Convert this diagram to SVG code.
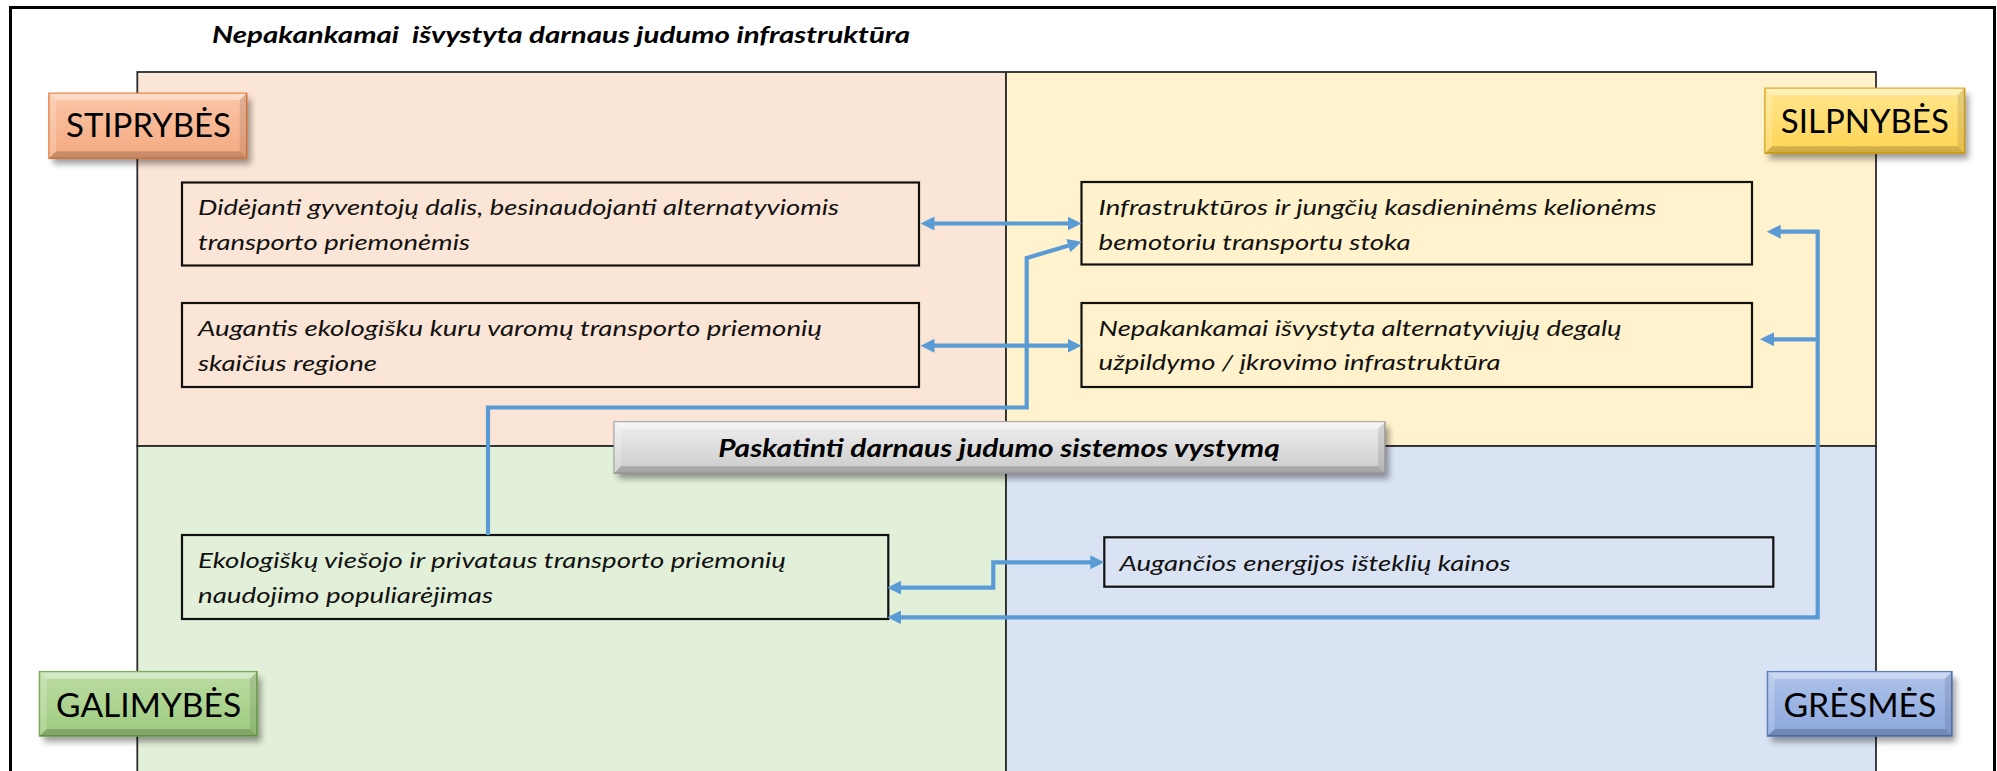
<svg xmlns="http://www.w3.org/2000/svg" width="1997" height="771" viewBox="0 0 1997 771">
<style>
.q{stroke:#2b2b2b;stroke-width:1.8}
.box{fill:none;stroke:#111;stroke-width:2.2}
.t{font-family:Lato,"Open Sans","DejaVu Sans",sans-serif;font-style:italic;font-size:21.5px;fill:#111}
.tb{font-family:Lato,"Open Sans","DejaVu Sans",sans-serif;font-style:italic;font-weight:bold;fill:#000}
.lb{font-family:Lato,"Open Sans","DejaVu Sans",sans-serif;font-size:33px;fill:#000}
.c{fill:none;stroke:#5B9BD5;stroke-width:4.2;stroke-linejoin:miter}
.hl{fill:#fff;opacity:.38}
.hl2{fill:#fff;opacity:.2}
.dk{fill:#000;opacity:.18}
.dk2{fill:#000;opacity:.1}
.sh{fill:#000;opacity:.38;filter:url(#blur)}
</style>
<defs>
<filter id="blur" x="-20%" y="-50%" width="140%" height="200%"><feGaussianBlur stdDeviation="3"/></filter>
<marker id="ah" markerUnits="userSpaceOnUse" markerWidth="16" markerHeight="16" refX="4" refY="7" orient="auto-start-reverse" viewBox="0 0 16 16">
<path d="M0,0 L14,7 L0,14 Z" fill="#5B9BD5"/>
</marker>
<linearGradient id="gO" x1="0" y1="0" x2="0" y2="1"><stop offset="0" stop-color="#FAC6A8"/><stop offset="1" stop-color="#F4A97F"/></linearGradient>
<linearGradient id="gY" x1="0" y1="0" x2="0" y2="1"><stop offset="0" stop-color="#FFE690"/><stop offset="1" stop-color="#FFD452"/></linearGradient>
<linearGradient id="gG" x1="0" y1="0" x2="0" y2="1"><stop offset="0" stop-color="#BCDCA3"/><stop offset="1" stop-color="#9DCB7E"/></linearGradient>
<linearGradient id="gB" x1="0" y1="0" x2="0" y2="1"><stop offset="0" stop-color="#AEC3EA"/><stop offset="1" stop-color="#8BA7DC"/></linearGradient>
<linearGradient id="gS" x1="0" y1="0" x2="0" y2="1"><stop offset="0" stop-color="#F0F0F0"/><stop offset="1" stop-color="#CACACA"/></linearGradient>
</defs>

<rect x="10.5" y="7.5" width="1984" height="820" fill="#fff" stroke="#000" stroke-width="3"/>

<g id="quadrants">
<rect class="q" x="137.3" y="72" width="868.7" height="374" fill="#FBE5D6"/>
<rect class="q" x="1006" y="72" width="870" height="374" fill="#FFF2CC"/>
<rect class="q" x="137.3" y="446" width="868.7" height="380" fill="#E2F0D9"/>
<rect class="q" x="1006" y="446" width="870" height="380" fill="#DAE3F3"/>
</g>

<g id="title">
<text class="tb" x="212" y="43" font-size="22" textLength="698" lengthAdjust="spacingAndGlyphs" xml:space="preserve">Nepakankamai  išvystyta darnaus judumo infrastruktūra</text>
</g>

<g id="node-s1">
<rect class="box" x="182" y="182.5" width="737" height="83"/>
<text class="t" x="198" y="215.3" textLength="641" lengthAdjust="spacingAndGlyphs">Didėjanti gyventojų dalis, besinaudojanti alternatyviomis</text>
<text class="t" x="198" y="250" textLength="272" lengthAdjust="spacingAndGlyphs">transporto priemonėmis</text>
</g>
<g id="node-s2">
<rect class="box" x="182" y="303" width="737" height="84"/>
<text class="t" x="198" y="335.8" textLength="624" lengthAdjust="spacingAndGlyphs">Augantis ekologišku kuru varomų transporto priemonių</text>
<text class="t" x="198" y="370.5" textLength="179" lengthAdjust="spacingAndGlyphs">skaičius regione</text>
</g>
<g id="node-w1">
<rect class="box" x="1081.5" y="182" width="670.5" height="82.5"/>
<text class="t" x="1098.6" y="215" textLength="558" lengthAdjust="spacingAndGlyphs">Infrastruktūros ir jungčių kasdieninėms kelionėms</text>
<text class="t" x="1098.6" y="249.6" textLength="312" lengthAdjust="spacingAndGlyphs">bemotoriu transportu stoka</text>
</g>
<g id="node-w2">
<rect class="box" x="1081.5" y="303" width="670.5" height="84"/>
<text class="t" x="1098.6" y="335.8" textLength="523" lengthAdjust="spacingAndGlyphs">Nepakankamai išvystyta alternatyviųjų degalų</text>
<text class="t" x="1098.6" y="370.3" textLength="402" lengthAdjust="spacingAndGlyphs">užpildymo / įkrovimo infrastruktūra</text>
</g>
<g id="node-o1">
<rect class="box" x="182" y="535" width="706.3" height="84"/>
<text class="t" x="198" y="568" textLength="588" lengthAdjust="spacingAndGlyphs">Ekologiškų viešojo ir privataus transporto priemonių</text>
<text class="t" x="198" y="602.6" textLength="295" lengthAdjust="spacingAndGlyphs">naudojimo populiarėjimas</text>
</g>
<g id="node-t1">
<rect class="box" x="1104.3" y="537.3" width="669" height="49.4"/>
<text class="t" x="1119.5" y="570.5" textLength="391" lengthAdjust="spacingAndGlyphs">Augančios energijos išteklių kainos</text>
</g>

<g id="connectors">
<path class="c" d="M930.5,223.5 L1071.5,223.5" marker-start="url(#ah)" marker-end="url(#ah)"/>
<path class="c" d="M930.5,345.7 L1071.5,345.7" marker-start="url(#ah)" marker-end="url(#ah)"/>
<path class="c" d="M488,535 L488,407.5 L1026.7,407.5 L1026.7,258 L1072.1,244.5" marker-end="url(#ah)"/>
<path class="c" d="M1776.7,231.7 L1817.7,231.7 L1817.7,617.3 L897.3,617.3" marker-start="url(#ah)" marker-end="url(#ah)"/>
<path class="c" d="M1817.7,339.3 L1770,339.3" marker-end="url(#ah)"/>
<path class="c" d="M897.3,587.7 L993.3,587.7 L993.3,562.3 L1094.3,562.3" marker-start="url(#ah)" marker-end="url(#ah)"/>
</g>

<g id="goal">
<rect class="sh" x="618" y="427" width="771" height="51.6"/>
<rect x="614" y="421.7" width="771" height="51.6" fill="url(#gS)" stroke="#9C9C9C" stroke-width="1.2"/>
<path class="hl" d="M614,421.7 L1385,421.7 L1378,428.7 L621,428.7 Z"/>
<path class="hl2" d="M614,421.7 L621,428.7 L621,466.3 L614,473.3 Z"/>
<path class="dk" d="M614,473.3 L621,466.3 L1378,466.3 L1385,473.3 Z"/>
<path class="dk2" d="M1385,421.7 L1378,428.7 L1378,466.3 L1385,473.3 Z"/>
<text class="tb" x="718.3" y="456.7" font-size="24" textLength="561.5" lengthAdjust="spacingAndGlyphs">Paskatinti darnaus judumo sistemos vystymą</text>
</g>

<g id="label-stiprybes">
<rect class="sh" x="53" y="99" width="197.7" height="65"/>
<rect x="49" y="93.3" width="197.7" height="65" fill="url(#gO)" stroke="#E27A3C" stroke-width="1.5"/>
<path class="hl" d="M49,93.3 L246.7,93.3 L239.7,100.3 L56,100.3 Z"/>
<path class="hl2" d="M49,93.3 L56,100.3 L56,151.3 L49,158.3 Z"/>
<path class="dk" d="M49,158.3 L56,151.3 L239.7,151.3 L246.7,158.3 Z"/>
<path class="dk2" d="M246.7,93.3 L239.7,100.3 L239.7,151.3 L246.7,158.3 Z"/>
<text class="lb" x="66" y="137.3" textLength="165" lengthAdjust="spacingAndGlyphs">STIPRYBĖS</text>
</g>
<g id="label-silpnybes">
<rect class="sh" x="1769" y="94" width="199.6" height="65"/>
<rect x="1765" y="88.3" width="199.6" height="65" fill="url(#gY)" stroke="#D9A514" stroke-width="1.5"/>
<path class="hl" d="M1765,88.3 L1964.6,88.3 L1957.6,95.3 L1772,95.3 Z"/>
<path class="hl2" d="M1765,88.3 L1772,95.3 L1772,146.3 L1765,153.3 Z"/>
<path class="dk" d="M1765,153.3 L1772,146.3 L1957.6,146.3 L1964.6,153.3 Z"/>
<path class="dk2" d="M1964.6,88.3 L1957.6,95.3 L1957.6,146.3 L1964.6,153.3 Z"/>
<text class="lb" x="1780.8" y="133.3" textLength="168" lengthAdjust="spacingAndGlyphs">SILPNYBĖS</text>
</g>
<g id="label-galimybes">
<rect class="sh" x="43.5" y="677.5" width="217.5" height="64.3"/>
<rect x="39.5" y="671.7" width="217.5" height="64.3" fill="url(#gG)" stroke="#6FA34A" stroke-width="1.5"/>
<path class="hl" d="M39.5,671.7 L257,671.7 L250,678.7 L46.5,678.7 Z"/>
<path class="hl2" d="M39.5,671.7 L46.5,678.7 L46.5,729 L39.5,736 Z"/>
<path class="dk" d="M39.5,736 L46.5,729 L250,729 L257,736 Z"/>
<path class="dk2" d="M257,671.7 L250,678.7 L250,729 L257,736 Z"/>
<text class="lb" x="56.1" y="716.7" textLength="185" lengthAdjust="spacingAndGlyphs">GALIMYBĖS</text>
</g>
<g id="label-gresmes">
<rect class="sh" x="1771.5" y="677.5" width="184.4" height="64.3"/>
<rect x="1767.5" y="671.7" width="184.4" height="64.3" fill="url(#gB)" stroke="#4E72B8" stroke-width="1.5"/>
<path class="hl" d="M1767.5,671.7 L1951.9,671.7 L1944.9,678.7 L1774.5,678.7 Z"/>
<path class="hl2" d="M1767.5,671.7 L1774.5,678.7 L1774.5,729 L1767.5,736 Z"/>
<path class="dk" d="M1767.5,736 L1774.5,729 L1944.9,729 L1951.9,736 Z"/>
<path class="dk2" d="M1951.9,671.7 L1944.9,678.7 L1944.9,729 L1951.9,736 Z"/>
<text class="lb" x="1783.4" y="716.7" textLength="153" lengthAdjust="spacingAndGlyphs">GRĖSMĖS</text>
</g>
</svg>
